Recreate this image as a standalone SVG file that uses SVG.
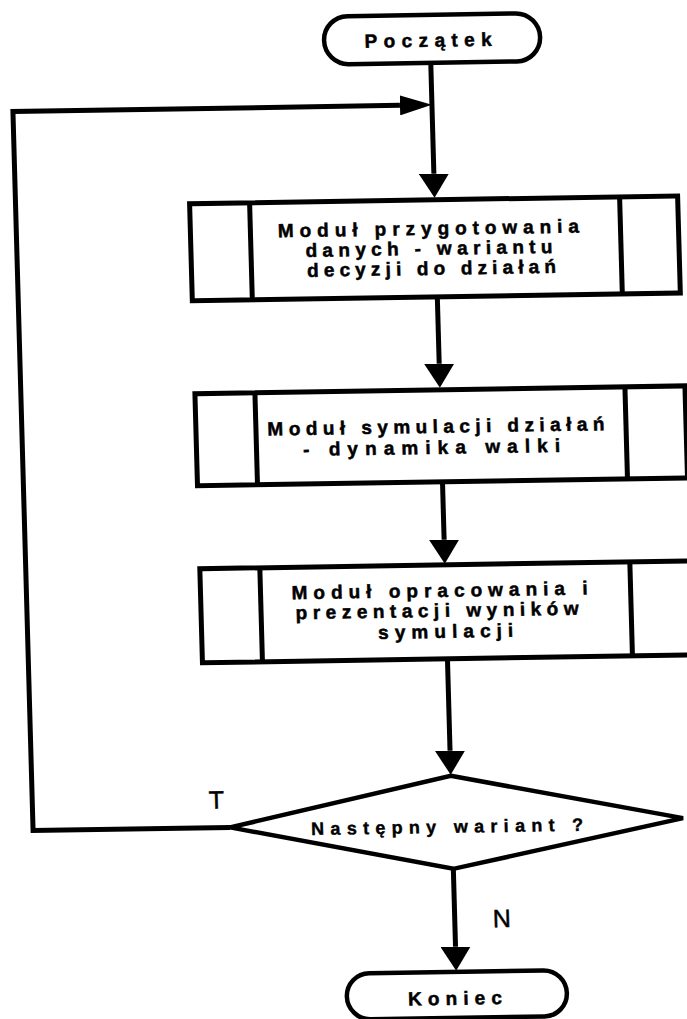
<svg xmlns="http://www.w3.org/2000/svg" width="687" height="1019" viewBox="0 0 687 1019">
<style>
  .shape { fill: #ffffff; stroke: #000000; stroke-width: 5; stroke-linejoin: miter; }
  .term { fill: #ffffff; stroke: #000000; stroke-width: 4.5; }
  .div { stroke: #000000; stroke-width: 5; fill: none; }
  .conn { stroke: #000000; stroke-width: 5; fill: none; stroke-linejoin: miter; }
  .lbl { font-family: "Liberation Sans", Arial, sans-serif; font-weight: bold; font-size: 19px; fill: #000000; stroke: #000000; stroke-width: 0.5; text-anchor: middle; }
  .dlbl { font-family: "Liberation Sans", Arial, sans-serif; font-weight: bold; font-size: 18px; fill: #000000; stroke: #000000; stroke-width: 0.4; text-anchor: middle; }
  .yn { font-family: "Liberation Sans", Arial, sans-serif; font-size: 25px; fill: #000000; stroke: #000000; stroke-width: 0.5; text-anchor: middle; }
</style>
<defs>
  <marker id="arrV" markerUnits="userSpaceOnUse" markerWidth="24" markerHeight="30" refX="0" refY="15" orient="auto">
    <path d="M0,0 L24,15 L0,30 Z" fill="#000000"/>
  </marker>
  <marker id="arrH" markerUnits="userSpaceOnUse" markerWidth="32" markerHeight="20" refX="0" refY="10" orient="auto">
    <path d="M0,0 L32,10 L0,20 Z" fill="#000000"/>
  </marker>
</defs>
<rect x="0" y="0" width="687" height="1019" fill="#ffffff"/>
<g transform="matrix(1,-0.016,0.028,1,-14,6.912)">
  <g id="connectors">
    <line class="conn" x1="443" y1="63" x2="443" y2="174" marker-end="url(#arrV)"/>
    <line class="conn" x1="443" y1="297" x2="443" y2="364" marker-end="url(#arrV)"/>
    <line class="conn" x1="443" y1="482" x2="443" y2="540" marker-end="url(#arrV)"/>
    <line class="conn" x1="443" y1="659" x2="443" y2="751" marker-end="url(#arrV)"/>
    <line class="conn" x1="443" y1="869" x2="443" y2="947" marker-end="url(#arrV)"/>
    <polyline class="conn" points="221,824 24,824 24,105 411,105" marker-end="url(#arrH)"/>
    <text class="yn" x="208" y="805">T</text>
    <text class="yn" x="490" y="928">N</text>
  </g>
  <g id="start">
    <rect class="term" x="337" y="15" width="216" height="48" rx="24" ry="24"/>
    <text class="lbl" x="441" y="47" textLength="127" lengthAdjust="spacing">Początek</text>
  </g>
  <g id="module1">
    <rect class="shape" x="198" y="200" width="488" height="97"/>
    <line class="div" x1="258" y1="200" x2="258" y2="297"/>
    <line class="div" x1="628" y1="200" x2="628" y2="297"/>
    <text class="lbl" x="436" y="235" textLength="301" lengthAdjust="spacing">Moduł przygotowania</text>
    <text class="lbl" x="436" y="255" textLength="247" lengthAdjust="spacing">danych - wariantu</text>
    <text class="lbl" x="438" y="275" textLength="249" lengthAdjust="spacing">decyzji do działań</text>
  </g>
  <g id="module2">
    <rect class="shape" x="198" y="390" width="490" height="92"/>
    <line class="div" x1="258" y1="390" x2="258" y2="482"/>
    <line class="div" x1="628" y1="390" x2="628" y2="482"/>
    <text class="lbl" x="438" y="433" textLength="337" lengthAdjust="spacing">Moduł symulacji działań</text>
    <text class="lbl" x="433" y="454" textLength="257" lengthAdjust="spacing">- dynamika walki</text>
  </g>
  <g id="module3">
    <rect class="shape" x="198" y="565" width="490" height="94"/>
    <line class="div" x1="258" y1="565" x2="258" y2="659"/>
    <line class="div" x1="628" y1="565" x2="628" y2="659"/>
    <text class="lbl" x="437" y="597" textLength="296" lengthAdjust="spacing">Moduł opracowania i</text>
    <text class="lbl" x="434" y="617" textLength="283" lengthAdjust="spacing">prezentacji wyników</text>
    <text class="lbl" x="442" y="638" textLength="135" lengthAdjust="spacing">symulacji</text>
  </g>
  <g id="decision">
    <polygon class="shape" style="stroke-width:4.5" points="443,776 674,822 443,869 221,824"/>
    <text class="dlbl" x="438" y="833" textLength="272" lengthAdjust="spacing">Następny wariant ?</text>
  </g>
  <g id="end">
    <rect class="term" x="333" y="972" width="220" height="46" rx="23" ry="23"/>
    <text class="lbl" x="441" y="1005" textLength="94" lengthAdjust="spacing">Koniec</text>
  </g>
</g>
</svg>
